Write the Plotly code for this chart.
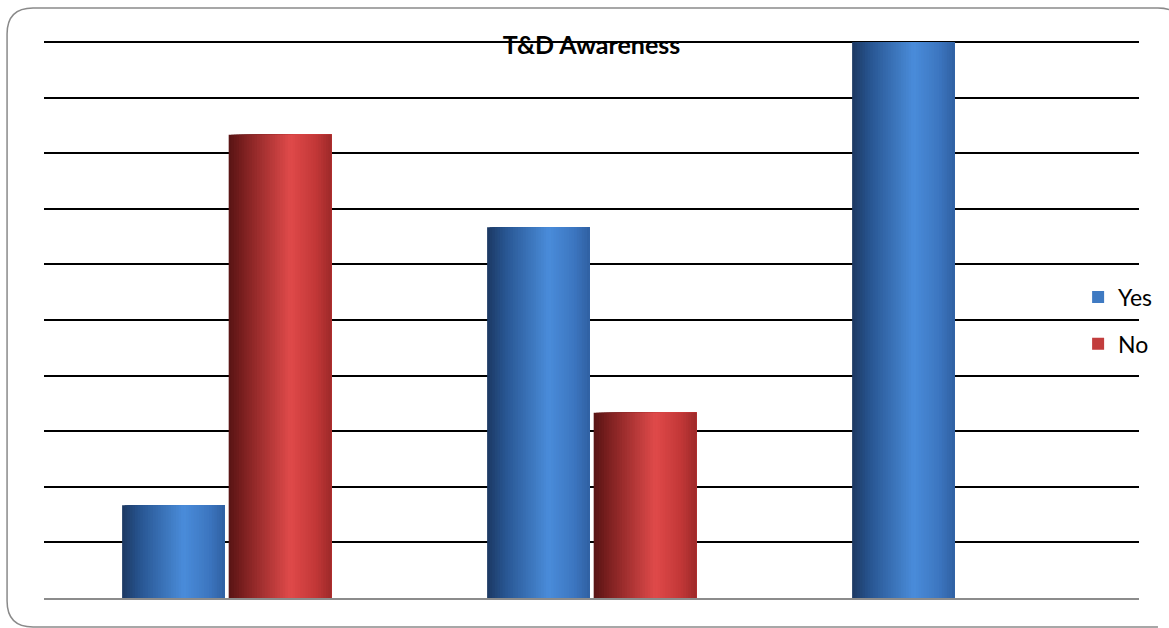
import plotly.graph_objects as go

# ---- data ----
categories = ["Group 1", "Group 2", "Group 3"]
yes_values = [16.7, 66.7, 100.0]
no_values = [83.3, 33.3, 0.0]
series_names = ["Yes", "No"]

# ---- style ----
W, H = 1169, 628
ML, MR, MT, MB = 44, 28, 36, 30
FONT = "Lato"
Y_TOP = 100 * (H - MB - MT) / 556.0   # 100 sits at y=42px

blue_stops = [(0.0, (28, 56, 98)), (0.18, (40, 86, 146)), (0.6, (74, 140, 218)),
              (0.85, (60, 118, 192)), (1.0, (48, 96, 162))]
red_stops = [(0.0, (88, 20, 20)), (0.18, (132, 35, 35)), (0.6, (224, 74, 74)),
             (0.85, (194, 55, 55)), (1.0, (158, 42, 42))]


def grad(stops, t):
    for (t0, c0), (t1, c1) in zip(stops[:-1], stops[1:]):
        if t0 <= t <= t1:
            f = (t - t0) / (t1 - t0) if t1 > t0 else 0
            c = [round(a + (b - a) * f) for a, b in zip(c0, c1)]
            return "rgb(%d,%d,%d)" % tuple(c)
    c = stops[-1][1]
    return "rgb(%d,%d,%d)" % c


fig = go.Figure()
N = 40
bar_w = 0.281
offsets = {"Yes": -0.286, "No": 0.006}
series = [("Yes", yes_values, blue_stops), ("No", no_values, red_stops)]
for name, vals, stops in series:
    step = bar_w / N
    for k in range(N):
        t = (k + 0.5) / N
        fig.add_trace(go.Bar(
            x=categories, y=vals,
            offset=offsets[name] + k * step,
            width=bar_w - k * step,
            marker=dict(color=grad(stops, t), line=dict(width=0)),
            name=name, legendgroup=name,
            showlegend=(k == int(N * 0.45)),
            hoverinfo="skip",
        ))

# rounded border (paper coords); right edge lies off-canvas
pw = W - ML - MR
ph = H - MT - MB


def px(x):
    return (x - ML) / pw


def py(y):
    return (H - MB - y) / ph


L, T, R, B, r = 7, 8, 1186, 627, 26
path = (f"M {px(R)},{py(T+r)} Q {px(R)},{py(T)} {px(R-r)},{py(T)} "
        f"L {px(L+r)},{py(T)} Q {px(L)},{py(T)} {px(L)},{py(T+r)} "
        f"L {px(L)},{py(B-r)} Q {px(L)},{py(B)} {px(L+r)},{py(B)} "
        f"L {px(R-r)},{py(B)}")

fig.update_layout(
    width=W, height=H,
    margin=dict(l=ML, r=MR, t=MT, b=MB),
    paper_bgcolor="white", plot_bgcolor="white",
    barmode="overlay",
    title=dict(text="<b>T&D Awareness</b>", x=0.5, xref="paper", xanchor="center",
               y=1 - 45 / H, yanchor="middle",
               font=dict(family=FONT, size=25, color="black")),
    xaxis=dict(range=[-0.5, 2.5], showticklabels=False, showgrid=False, zeroline=False,
               showline=True, linecolor="#8c8c8c", linewidth=2, ticks=""),
    yaxis=dict(range=[0, Y_TOP], tickvals=list(range(10, 101, 10)), showticklabels=False,
               showgrid=True, gridcolor="black", gridwidth=2, zeroline=False, ticks="",
               showline=False),
    legend=dict(x=px(1080), xanchor="left", y=py(320.5), yanchor="middle",
                font=dict(family=FONT, size=23, color="black"),
                bgcolor="rgba(0,0,0,0)", tracegroupgap=14, itemclick=False),
    shapes=[dict(type="path", path=path, xref="paper", yref="paper",
                 fillcolor="rgba(0,0,0,0)",
                 line=dict(color="#8a8a8a", width=1.5), layer="below")],
    font=dict(family=FONT),
)

fig.write_html("out.html")
